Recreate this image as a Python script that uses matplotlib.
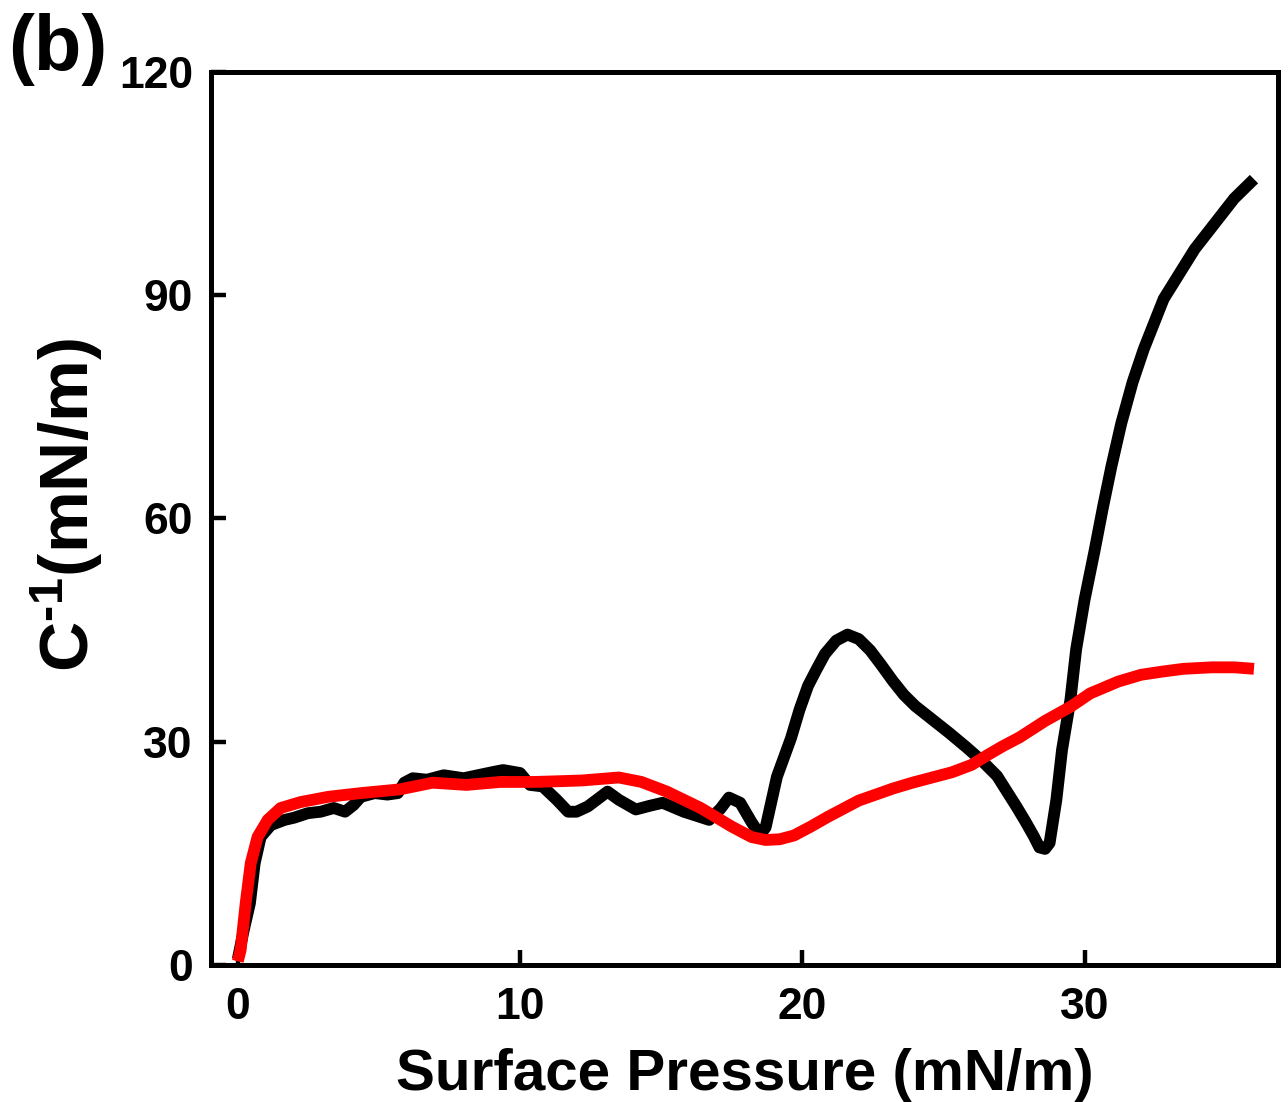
import matplotlib
matplotlib.use("Agg")
import matplotlib.pyplot as plt

# Black series (surface pressure, compressibility modulus)
black_x = [0.0, 0.2, 0.43, 0.6, 0.81, 1.17, 1.66, 2.0, 2.48, 2.94, 3.4, 3.8, 4.1, 4.36, 4.85, 5.3,
           5.67, 5.9, 6.2, 6.7, 7.3, 8.0, 8.5, 9.0, 9.4, 10.0, 10.35, 10.8, 11.3, 11.7, 12.0,
           12.4, 13.1, 13.5, 14.1, 14.6, 15.05, 15.8, 16.7, 17.1, 17.4, 17.8, 18.2, 18.5,
           18.7, 19.1, 19.6, 19.9, 20.2, 20.5, 20.8, 21.2, 21.6, 22.0, 22.4, 22.8, 23.2, 23.6,
           24.0, 24.6, 25.2, 25.8, 26.4, 26.9, 27.3, 27.6, 27.9, 28.2, 28.4, 28.6, 28.76,
           29.0, 29.2, 29.5, 29.7, 30.0, 30.36, 30.65, 30.95, 31.3, 31.7, 32.1, 32.8, 33.9, 35.3, 36.0]
black_y = [0.8, 4.5, 8.3, 13.7, 17.2, 18.8, 19.5, 19.8, 20.4, 20.6, 21.1, 20.6, 21.5, 22.6, 23.1, 22.9,
           23.1, 24.5, 25.1, 24.9, 25.5, 25.1, 25.5, 25.9, 26.2, 25.8, 24.2, 24.0, 22.2, 20.6, 20.6,
           21.3, 23.3, 22.2, 20.9, 21.4, 21.8, 20.6, 19.5, 21.0, 22.5, 21.8, 19.2, 17.5,
           18.5, 25.3, 30.5, 34.3, 37.5, 39.7, 41.8, 43.6, 44.4, 43.8, 42.3, 40.3, 38.2, 36.3,
           34.8, 33.0, 31.2, 29.3, 27.3, 25.4, 23.0, 21.2, 19.3, 17.3, 15.8, 15.6, 16.4,
           22.2, 28.9, 35.7, 42.4, 49.1, 55.8, 61.5, 67.0, 72.8, 78.3, 82.8, 89.5, 96.2, 103.0, 105.6]

# Red series
red_x = [0.0, 0.1, 0.28, 0.46, 0.7, 1.06, 1.52, 2.23, 3.2, 4.36, 5.74, 6.9, 8.1, 9.3, 10.5, 11.4,
         12.2, 13.5, 14.3, 15.2, 16.4, 17.5, 18.2, 18.7, 19.2, 19.7, 20.3, 20.9, 21.5, 22.0,
         22.6, 23.2, 23.9, 24.6, 25.3, 26.0, 26.6, 27.1, 27.7, 28.6, 29.5, 30.2, 31.2, 32.0,
         32.7, 33.5, 34.5, 35.3, 36.0]
red_y = [0.5, 2.0, 8.3, 13.7, 17.2, 19.5, 21.1, 21.9, 22.6, 23.1, 23.6, 24.5, 24.2, 24.6, 24.6, 24.7,
         24.8, 25.2, 24.6, 23.3, 21.1, 18.6, 17.2, 16.8, 16.9, 17.4, 18.6, 19.9, 21.1, 22.1,
         22.9, 23.7, 24.5, 25.2, 25.9, 26.9, 28.3, 29.4, 30.6, 32.8, 34.7, 36.5, 38.1, 39.0,
         39.4, 39.8, 40.0, 40.0, 39.8]

x_ticks = [0, 10, 20, 30]
y_ticks = [0, 30, 60, 90, 120]

plt.rcParams['font.family'] = ['Liberation Sans', 'DejaVu Sans']
plt.rcParams['font.weight'] = 'bold'
plt.rcParams['mathtext.fontset'] = 'custom'
plt.rcParams['mathtext.rm'] = 'Liberation Sans:bold'
plt.rcParams['mathtext.bf'] = 'Liberation Sans:bold'
plt.rcParams['mathtext.default'] = 'bf'

fig = plt.figure(figsize=(12.88, 11.02), dpi=100)
ax = fig.add_axes([0.1638, 0.1243, 0.8284, 0.8104])

ax.plot(black_x, black_y, color='black', lw=8.5, solid_joinstyle='round', solid_capstyle='butt')
ax.plot(red_x, red_y, color='#ff0000', lw=8.5, solid_joinstyle='round', solid_capstyle='butt')

ax.set_xlim(-0.95, 36.85)
ax.set_ylim(0, 120)
ax.set_xticks(x_ticks)
ax.set_yticks(y_ticks)

for s in ax.spines.values():
    s.set_linewidth(3.6)

ax.tick_params(axis='both', direction='in', length=11, width=3.2, labelsize=32)
ax.tick_params(axis='x', pad=16)
ax.tick_params(axis='y', pad=13)
for lab in ax.get_xticklabels() + ax.get_yticklabels():
    lab.set_fontweight('bold')

ax.set_xlabel('Surface Pressure (mN/m)', fontsize=42, fontweight='bold', labelpad=14)
ax.set_ylabel(r'C$^{\text{-1}}$(mN/m)', fontsize=50, fontweight='bold')
ax.yaxis.set_label_coords(-0.099, 0.515)

fig.text(0.006, 0.988, '(b)', fontsize=56, fontweight='bold', ha='left', va='top')

fig.savefig('out.png', dpi=100)
